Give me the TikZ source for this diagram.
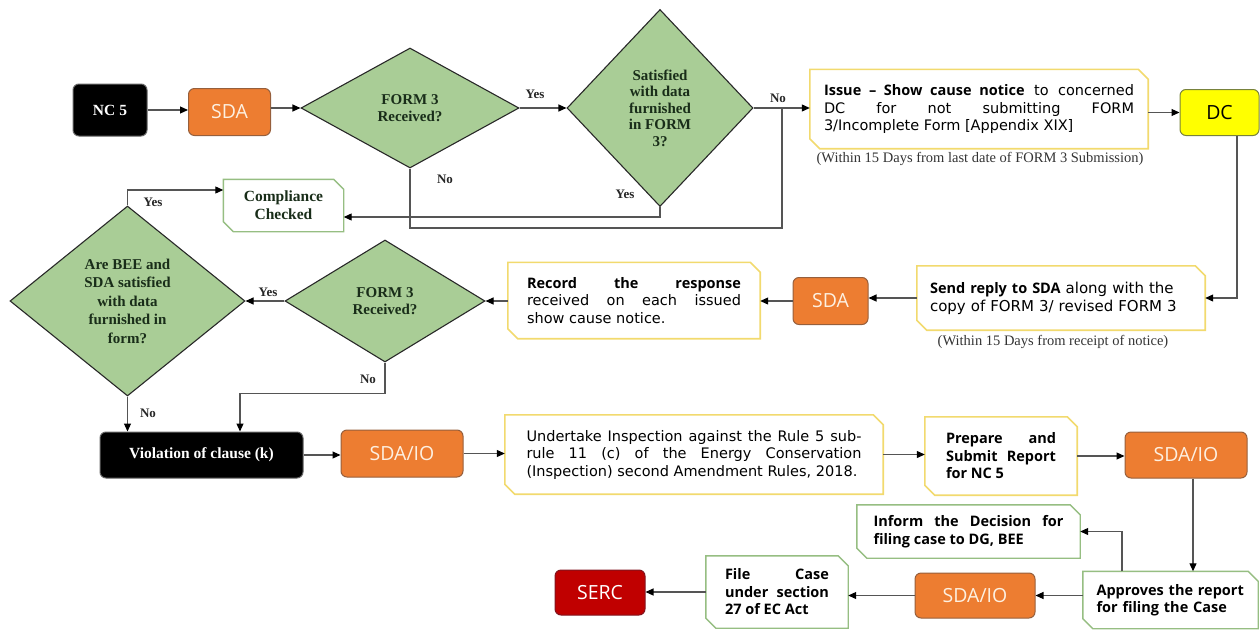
\documentclass[tikz,border=0pt]{standalone}
\usepackage{fontspec}
\setmainfont{Liberation Serif}
\newfontfamily\regfont{DejaVu Sans}
\newfontfamily\boxfont{Open Sans}
\usetikzlibrary{shapes.geometric,arrows.meta,calc}
\definecolor{linec}{RGB}{85,85,85}
\definecolor{dgreen}{RGB}{169,205,150}
\definecolor{diab}{RGB}{40,40,40}
\definecolor{diat}{RGB}{25,45,25}
\definecolor{sdaor}{RGB}{237,125,49}
\definecolor{sdaorb}{RGB}{150,95,60}
\definecolor{cream}{RGB}{253,240,225}
\definecolor{dcyel}{RGB}{255,255,0}
\definecolor{dcb}{RGB}{120,130,60}
\definecolor{sercred}{RGB}{192,0,0}
\definecolor{sercb}{RGB}{130,20,30}
\definecolor{yelb}{RGB}{242,218,110}
\definecolor{grnb}{RGB}{150,190,130}
\newcommand\chbox[2]{\draw[#2] (#1.north west) -- ([xshift=-10pt]#1.north east) -- ([yshift=-10pt]#1.north east) -- (#1.south east) -- ([xshift=10pt]#1.south west) -- ([yshift=10pt]#1.south west) -- cycle;}
\newcommand\bx[1]{{\boxfont\bfseries\fontsize{14.5}{17}\selectfont #1}}
\begin{document}
\begin{tikzpicture}[x=1pt,y=-1pt,
  lc/.style={draw=linec, line width=1.1pt},
  arr/.style={lc, -{Triangle[length=8pt,width=7pt,color=black]}},
  dia/.style={diamond, draw=diab, line width=1.1pt, fill=dgreen, inner sep=0pt, align=center, text=diat, font=\bfseries\fontsize{15}{17}\selectfont},
  ob/.style={rectangle, rounded corners=6pt, fill=sdaor, draw=sdaorb, line width=1pt, text=cream, font=\boxfont\fontsize{19.5}{22}\selectfont, inner sep=0pt},
  kb/.style={rectangle, rounded corners=6pt, fill=black, draw=black!60, line width=1pt, text=white, font=\bfseries\fontsize{15.5}{17}\selectfont, inner sep=0pt},
  tb/.style={rectangle, fill=white, inner sep=0pt, font=\regfont\fontsize{14.5}{17.5}\selectfont, text=black},
  tbb/.style={tb, font=\boxfont\bfseries\fontsize{14.5}{17.5}\selectfont},
  lbl/.style={font=\bfseries\fontsize{13}{15}\selectfont, text=black!85, inner sep=0pt},
  capt/.style={font=\fontsize{14.5}{16}\selectfont, text=black!80, inner sep=0pt},
  ybord/.style={draw=yelb, line width=1.6pt},
  gbord/.style={draw=grnb, line width=1.4pt},
]
\useasboundingbox (0,0) rectangle (1260,629);
% top row
\node[kb, minimum width=74pt, minimum height=52pt] (nc5) at (110,110) {NC 5};
\node[ob, minimum width=82pt, minimum height=47pt] (sda1) at (229.5,112) {SDA};
\node[dia, minimum width=218pt, minimum height=120pt] (d1) at (410,108) {FORM 3\\Received?};
\node[dia, minimum width=186pt, minimum height=197pt, font=\bfseries\fontsize{15}{16.5}\selectfont] (d2) at (660,108) {Satisfied\\with data\\furnished\\in FORM\\3?};
\node[tb, minimum width=338pt, minimum height=79pt, text width=310pt, align=justify] (issue) at (979,109) {\bx{Issue – Show cause notice} to concerned\linebreak DC for not submitting FORM\linebreak 3/Incomplete Form [Appendix XIX]};
\node[ob, fill=dcyel, draw=dcb, text=black, minimum width=79pt, minimum height=46pt] (dc) at (1219.5,112.5) {DC};
\node[capt] (cap1) at (980,159) {(Within 15 Days from last date of FORM 3 Submission)};
% second row
\node[tb, minimum width=288pt, minimum height=64pt, text width=262pt, align=left, font=\regfont\fontsize{15}{18}\selectfont] (send) at (1061,298) {\bx{Send reply to SDA} along with the\\copy of FORM 3/ revised FORM 3};
\node[capt] (cap2) at (1053,342) {(Within 15 Days from receipt of notice)};
\node[ob, minimum width=75pt, minimum height=47pt] (sda2) at (830.5,301) {SDA};
\node[tb, minimum width=252pt, minimum height=76pt, text width=214pt, align=justify] (rec) at (634,300.5) {\bx{Record the response}\linebreak received on each issued\linebreak show cause notice.};
\node[dia, minimum width=200pt, minimum height=122pt] (d4) at (385,301) {FORM 3\\Received?};
\node[dia, minimum width=235pt, minimum height=190pt, font=\bfseries\fontsize{15}{18.5}\selectfont] (d3) at (127.5,301) {Are BEE and\\SDA satisfied\\with data\\furnished in\\form?};
\node[tb, minimum width=120pt, minimum height=52pt, font=\bfseries\fontsize{15.5}{18}\selectfont, align=center, text=diat] (comp) at (283.5,205.5) {Compliance\\Checked};
% third row
\node[kb, minimum width=203pt, minimum height=46pt] (viol) at (201.5,455) {Violation of clause (k)};
\node[ob, minimum width=122pt, minimum height=47pt] (sio1) at (402,453.5) {SDA/IO};
\node[tb, minimum width=378pt, minimum height=79pt, text width=335pt, align=justify] (und) at (694,454.5) {Undertake Inspection against the Rule 5 sub-\linebreak rule 11 (c) of the Energy Conservation\linebreak (Inspection) second Amendment Rules, 2018.};
\node[tbb, minimum width=152pt, minimum height=78pt, text width=110pt, align=justify] (prep) at (1001,456) {Prepare and\linebreak Submit Report\linebreak for NC 5};
\node[ob, minimum width=122pt, minimum height=46pt] (sio2) at (1186,455) {SDA/IO};
% bottom rows
\node[tbb, minimum width=175pt, minimum height=57pt, text width=148pt, align=left] (appr) at (1170.5,600) {Approves the report\\for filing the Case};
\node[tbb, minimum width=223pt, minimum height=53pt, text width=190pt, align=justify] (inf) at (968.5,531.5) {Inform the Decision for\linebreak filing case to DG, BEE};
\node[ob, minimum width=120pt, minimum height=45pt] (sio3) at (975,595.5) {SDA/IO};
\node[tbb, minimum width=142pt, minimum height=72pt, text width=104pt, align=justify] (file) at (777,592) {File Case\linebreak under section\linebreak 27 of EC Act};
\node[ob, fill=sercred, draw=sercb, text=white, minimum width=90pt, minimum height=45pt] (serc) at (600,592.5) {SERC};
% outlines of cut-corner boxes
\chbox{issue}{ybord}
\chbox{send}{ybord}
\chbox{rec}{ybord}
\chbox{und}{ybord}
\chbox{prep}{ybord}
\chbox{comp}{gbord}
\chbox{inf}{gbord}
\chbox{appr}{gbord}
\chbox{file}{gbord}
% helper coordinates
\coordinate (j1) at (782,108);
\coordinate (lowy) at (0,228);
\coordinate (vx) at (1193,0);
\coordinate (vx2) at (1122,0);
% connectors
\draw[arr] (nc5.east) -- (nc5.east -| sda1.west);
\draw[arr] (sda1.east |- d1.west) -- (d1.west);
\draw[arr] (d1.east) -- (d2.west);
\draw[arr] (d2.east) -- (d2.east -| issue.west);
\draw[lc] (d1.south) |- (lowy -| j1) -- (j1);
\draw[arr] (d2.south) |- ([yshift=-11.5pt]comp.east);
\draw[arr] (issue.east |- dc.west) -- (dc.west);
\draw[arr] ([xshift=17.5pt]dc.south) |- (send.east);
\draw[arr] (send.west) -- (send.west -| sda2.east);
\draw[arr] (sda2.west) -- (sda2.west -| rec.east);
\draw[arr] (rec.west |- d4.east) -- (d4.east);
\draw[arr] (d4.west) -- (d3.east);
\draw[arr] (d3.north) |- ([yshift=15.5pt]comp.west);
\draw[arr] (d3.south) -- (d3.south |- viol.north);
\draw[arr] (d4.south) -- ++(0,31) -| ([xshift=38.5pt]viol.north);
\draw[arr] (viol.east) -- (viol.east -| sio1.west);
\draw[arr] (sio1.east) -- (sio1.east -| und.west);
\draw[arr] (und.east) -- (und.east -| prep.west);
\draw[arr] (prep.east) -- (prep.east -| sio2.west);
\draw[arr] (sio2.south -| vx) -- (appr.north -| vx);
\draw[arr] (appr.north -| vx2) |- (inf.east);
\draw[arr] (appr.west |- sio3.east) -- (sio3.east);
\draw[arr] (sio3.west) -- (sio3.west -| file.east);
\draw[arr] (file.west) -- (file.west -| serc.east);
% labels
\node[lbl] (l1) at (535,94) {Yes};
\node[lbl] (l2) at (778,98) {No};
\node[lbl] (l3) at (445,179) {No};
\node[lbl] (l4) at (625,194) {Yes};
\node[lbl] (l5) at (153,202) {Yes};
\node[lbl] (l6) at (268,292) {Yes};
\node[lbl] (l7) at (368,379) {No};
\node[lbl] (l8) at (148,413) {No};
\end{tikzpicture}
\end{document}
